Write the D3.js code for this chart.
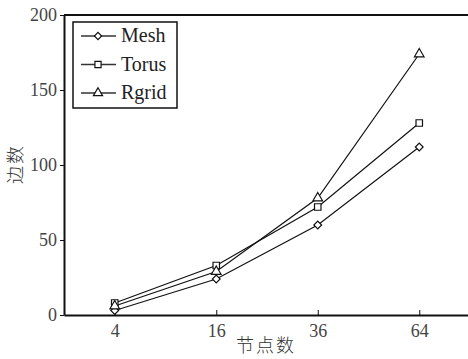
<!DOCTYPE html>
<html>
<head>
<meta charset="utf-8">
<script src="https://cdn.jsdelivr.net/npm/d3@7"></script>
<style>
  body { margin: 0; background: #fff; }
  svg { display: block; }
</style>
</head>
<body>
<div id="chart"></div>
<script>
// chart data
const categories = ['4', '16', '36', '64'];
const seriesNames = ['Mesh', 'Torus', 'Rgrid'];
const meshValues = [3, 24, 60, 112];
const torusValues = [8, 33, 72, 128];
const rgridValues = [6, 29, 78, 174];
const yTicks = [0, 50, 100, 150, 200];
const xTitle = '节点数';
const yTitle = '边数';

const width = 468, height = 359;
const margin = { top: 15, right: -2, bottom: 44, left: 64 };
const latin = 'Liberation Serif, Times New Roman, serif';
const cjk = 'Noto Sans CJK SC, sans-serif';

const svg = d3.select('#chart').append('svg')
  .attr('width', width)
  .attr('height', height);

const x = d3.scalePoint()
  .domain(categories)
  .range([margin.left, width - margin.right])
  .padding(0.5);

const y = d3.scaleLinear()
  .domain([0, 200])
  .range([height - margin.bottom, margin.top]);

// diamond = square turned 45 degrees
const series = [
  { name: seriesNames[0], values: meshValues, symbol: d3.symbolSquare, rot: 45, size: 30 },
  { name: seriesNames[1], values: torusValues, symbol: d3.symbolSquare, rot: 0, size: 42 },
  { name: seriesNames[2], values: rgridValues, symbol: d3.symbolTriangle, rot: 0, size: 40 }
];

// x axis, ticks point inwards
const xAxis = svg.append('g')
  .attr('transform', `translate(0,${y(0)})`)
  .call(d3.axisBottom(x).tickSizeInner(-5).tickSizeOuter(0).tickPadding(9));
xAxis.select('.domain').attr('stroke-width', 2).attr('stroke', '#111');
xAxis.selectAll('.tick line').attr('stroke', '#111');
xAxis.selectAll('text')
  .attr('font-family', latin).attr('font-size', 18).attr('fill', '#444');

// y axis, ticks point outwards
const yAxis = svg.append('g')
  .attr('transform', `translate(${margin.left},0)`)
  .call(d3.axisLeft(y).tickValues(yTicks).tickSize(4).tickSizeOuter(0).tickPadding(3));
yAxis.select('.domain').attr('stroke-width', 2).attr('stroke', '#111');
yAxis.selectAll('.tick line').attr('stroke', '#111');
yAxis.selectAll('text')
  .attr('font-family', latin).attr('font-size', 18).attr('fill', '#444');

// top border
svg.append('line')
  .attr('x1', margin.left).attr('x2', width)
  .attr('y1', y(200)).attr('y2', y(200))
  .attr('stroke', '#111').attr('stroke-width', 2);

// axis titles
svg.append('text')
  .attr('x', 266).attr('y', 352)
  .attr('text-anchor', 'middle')
  .attr('font-family', cjk).attr('font-size', 18).attr('font-weight', 300)
  .attr('letter-spacing', 2).attr('fill', '#333')
  .text(xTitle);

svg.append('text')
  .attr('transform', `translate(22,${164}) rotate(-90)`)
  .attr('text-anchor', 'middle')
  .attr('font-family', cjk).attr('font-size', 18).attr('font-weight', 300)
  .attr('letter-spacing', 2).attr('fill', '#333')
  .text(yTitle);

const line = d3.line()
  .x((d, i) => x(categories[i]))
  .y(d => y(d));

series.forEach(s => {
  svg.append('path')
    .datum(s.values)
    .attr('fill', 'none')
    .attr('stroke', '#111')
    .attr('stroke-width', 1.2)
    .attr('d', line);
});

series.forEach(s => {
  svg.append('g').selectAll('path')
    .data(s.values)
    .enter().append('path')
    .attr('transform', (d, i) => `translate(${x(categories[i])},${y(d)}) rotate(${s.rot})`)
    .attr('d', d3.symbol().type(s.symbol).size(s.size))
    .attr('fill', '#fff')
    .attr('stroke', '#111')
    .attr('stroke-width', 1.2);
});

// legend
const legend = svg.append('g').attr('transform', 'translate(73,22)');
legend.append('rect')
  .attr('width', 104).attr('height', 86)
  .attr('fill', '#fff').attr('stroke', '#111').attr('stroke-width', 1.5);

const item = legend.selectAll('g.item')
  .data(series)
  .enter().append('g')
  .attr('class', 'item')
  .attr('transform', (d, i) => `translate(0,${14 + i * 28.5})`);

item.append('line')
  .attr('x1', 8).attr('x2', 43)
  .attr('stroke', '#333').attr('stroke-width', 1.5);
item.append('path')
  .attr('transform', d => `translate(25,0) rotate(${d.rot})`)
  .attr('d', d => d3.symbol().type(d.symbol).size(d.size - 4)())
  .attr('fill', '#fff').attr('stroke', '#111').attr('stroke-width', 1.2);
item.append('text')
  .attr('x', 48).attr('y', 6)
  .attr('font-family', latin).attr('font-size', 20).attr('fill', '#222')
  .text(d => d.name);
</script>
</body>
</html>
